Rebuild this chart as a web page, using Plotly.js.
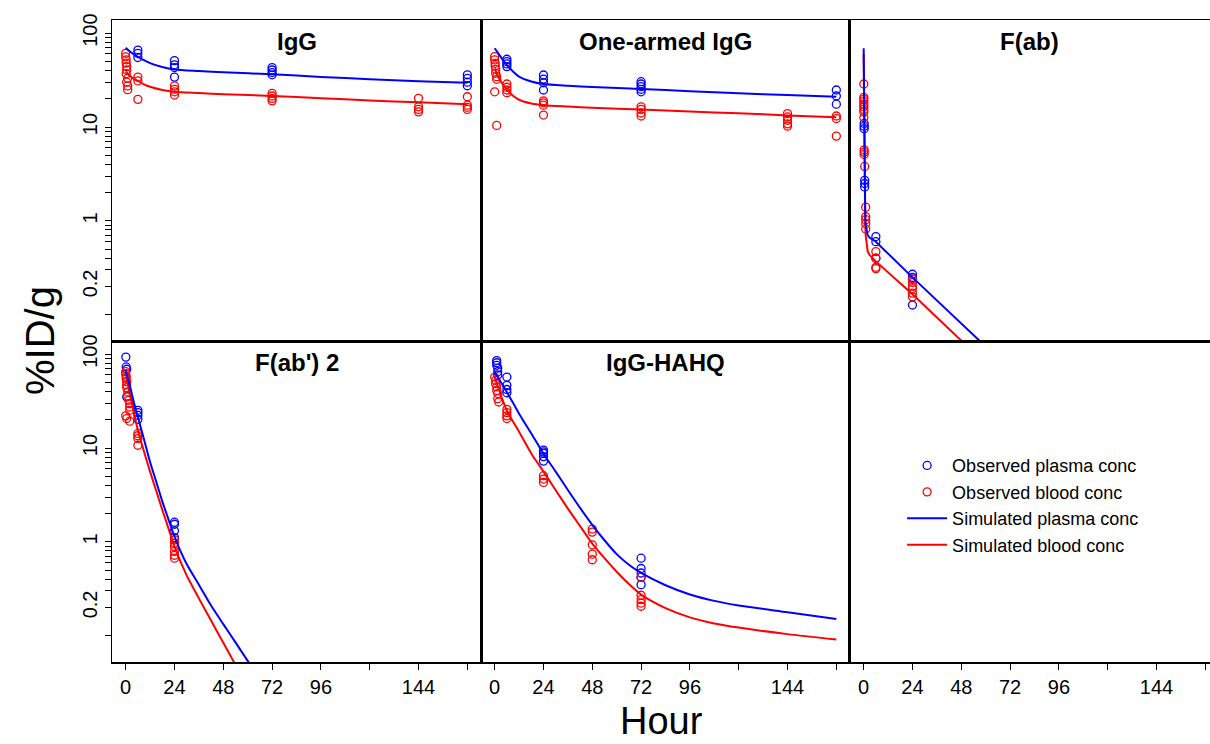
<!DOCTYPE html>
<html>
<head>
<meta charset="utf-8">
<script src="https://cdn.plot.ly/plotly-3.0.1.min.js"></script>
<style>html,body{margin:0;padding:0;background:#fff;}#chart{width:1210px;height:744px;}</style>
</head>
<body>
<div id="chart"></div>
<script>
// ---------------- DATA ----------------
const panelTitles = ["IgG", "One-armed IgG", "F(ab)", "F(ab') 2", "IgG-HAHQ"];
const legendNames = ["Observed plasma conc", "Observed blood conc", "Simulated plasma conc", "Simulated blood conc"];
const xTickVals = [0, 24, 48, 72, 96, 120, 144, 168];
const xTickText = ["0", "24", "48", "72", "96", "", "144", ""];
const yTickLabels = {"100": "100", "10": "10", "1": "1", "0.2": "0.2"};

// IgG
const igg_obsPlasma_t = [6, 6, 6, 24, 24, 24, 24, 72, 72, 72, 72, 168, 168, 168, 168];
const igg_obsPlasma_c = [66, 61, 55, 51, 46, 43, 34, 43, 40.5, 38, 36, 36, 33, 30, 27.5];
const igg_obsBlood_t = [0, 0, 0.25, 0.25, 0.5, 0.5, 0.25, 1, 0.5, 1, 1, 6, 6, 6, 24, 24, 24, 24, 72, 72, 72, 72, 144, 144, 144, 144, 168, 168, 168, 168];
const igg_obsBlood_c = [61, 56, 52, 48, 44, 40.5, 37, 33, 30, 27.4, 25, 34, 31, 19.7, 27.4, 25.2, 23.7, 21.9, 22.8, 21.4, 20.2, 19, 20.2, 16.4, 15.4, 14.5, 21, 17.1, 16.2, 15.4];
const igg_sim_t = [0, 2, 4, 6, 9, 12, 18, 24, 36, 48, 72, 96, 120, 144, 168];
const igg_simPlasma = [70, 64, 59.5, 56, 51.5, 48, 43.5, 41, 39.5, 38.3, 36.4, 34.2, 32.3, 30.8, 29.6];
const igg_simBlood = [39, 35, 32.7, 31, 28.5, 26.8, 24.8, 23.7, 23, 22.4, 21.4, 20.3, 19.2, 18.3, 17.5];

// One-armed IgG
const oa_obsPlasma_t = [6, 6, 6, 6, 24, 24, 24, 24, 72, 72, 72, 72, 72, 168, 168, 168];
const oa_obsPlasma_c = [52.7, 49.7, 47, 44, 35.8, 32.4, 29.6, 24.8, 30.4, 28.7, 26.9, 25.2, 23.7, 24.8, 21.4, 17.5];
const oa_obsBlood_t = [0, 0, 0.25, 0.25, 0.5, 0.5, 1, 1, 0, 1, 6, 6, 6, 6, 24, 24, 24, 24, 72, 72, 72, 72, 144, 144, 144, 144, 144, 168, 168, 168];
const oa_obsBlood_c = [56.2, 51.8, 47.7, 44.7, 41.2, 37.4, 34.4, 32.2, 23.7, 10.4, 28.7, 26.5, 24.8, 23.2, 19, 18.1, 17.1, 13.4, 16.4, 15.4, 14.1, 13.1, 13.9, 12.8, 11.8, 10.8, 10.2, 13.1, 12.3, 8.0];
const oa_sim_t = [0, 2, 4, 6, 9, 12, 18, 24, 36, 48, 72, 96, 120, 144, 168];
const oa_simPlasma = [69, 60, 52, 46, 39, 34.4, 30.5, 28.7, 27.5, 26.6, 25.4, 24.1, 22.9, 21.9, 21];
const oa_simBlood = [42, 33.5, 28.5, 25, 21.5, 19.5, 17.8, 17.1, 16.5, 16, 15.4, 14.6, 14, 13.3, 12.7];

// F(ab)
const fab_obsPlasma_t = [0.25, 0.25, 0.25, 0.5, 0.5, 0.5, 6, 6, 6, 24, 24, 24, 24];
const fab_obsPlasma_c = [10.9, 10.2, 9.6, 2.7, 2.5, 2.3, 0.68, 0.60, 0.40, 0.27, 0.25, 0.24, 0.127];
const fab_obsBlood_t = [0.08, 0.08, 0.08, 0.08, 0.08, 0.08, 0.08, 0.08, 0.08, 0.25, 0.25, 0.25, 0.5, 1, 1, 1, 1, 1, 6, 6, 6, 6, 24, 24, 24, 24, 24, 24];
const fab_obsBlood_c = [28.7, 20.7, 19.7, 18.6, 17.4, 16.4, 15.4, 14.5, 12.6, 5.7, 5.4, 5.1, 3.8, 1.4, 1.11, 1.03, 0.93, 0.82, 0.47, 0.40, 0.32, 0.31, 0.24, 0.22, 0.20, 0.19, 0.17, 0.155];
const fab_sim_t = [0, 0.1, 0.25, 0.5, 0.75, 1, 1.5, 2, 3, 6, 24, 48, 72];
const fab_simPlasma = [69, 30, 10, 3, 1.3, 0.9, 0.75, 0.7, 0.66, 0.6, 0.25, 0.081, 0.026];
const fab_simBlood = [60, 24, 7, 2, 1.0, 0.7, 0.52, 0.47, 0.43, 0.37, 0.165, 0.053, 0.017];

// F(ab')2
const f2_obsPlasma_t = [0.08, 0.25, 0.5, 0.5, 6, 6, 6, 6, 24, 24, 24, 24];
const f2_obsPlasma_c = [93, 73, 69, 35, 25.2, 23.8, 22.3, 20.2, 1.62, 1.54, 1.31, 1.11];
const f2_obsBlood_t = [0, 0, 0.25, 0.25, 0.5, 0.5, 0.5, 1, 1, 1.5, 2, 2, 2, 0, 0.5, 2, 6, 6, 6, 6, 24, 24, 24, 24, 24, 24];
const f2_obsBlood_c = [65, 62, 58, 55, 51, 47, 44, 39.5, 35.8, 32.2, 29.6, 27.4, 25.2, 22, 20.6, 19.3, 14.3, 13.5, 12.6, 10.7, 1.05, 0.97, 0.89, 0.79, 0.72, 0.67];
const f2_sim_t = [0, 2, 4, 6, 9, 12, 15, 18, 21, 24, 30, 36, 42, 48, 54, 60, 66];
const f2_simPlasma = [67, 46, 31, 21.4, 12.4, 7.1, 4.4, 2.7, 1.75, 1.14, 0.58, 0.35, 0.21, 0.133, 0.085, 0.054, 0.035];
const f2_simBlood = [64, 38, 24, 15.5, 9.2, 5.6, 3.5, 2.2, 1.4, 0.89, 0.44, 0.25, 0.145, 0.084, 0.049, 0.029, 0.018];

// IgG-HAHQ
const hq_obsPlasma_t = [1, 1, 1, 1.5, 1.5, 1.5, 6, 6, 6, 6, 24, 24, 24, 24, 24, 72, 72, 72, 72, 72];
const hq_obsPlasma_c = [85.5, 81, 76, 71, 65, 60, 57, 46.5, 42, 38.8, 9.5, 9.1, 8.75, 8.1, 7.25, 0.67, 0.52, 0.466, 0.42, 0.35];
const hq_obsBlood_t = [0, 0.5, 0.5, 1, 1, 1.5, 1.5, 2, 6, 6, 6, 6, 24, 24, 24, 48, 48, 48, 48, 48, 72, 72, 72, 72, 72];
const hq_obsBlood_c = [57, 52.5, 48.4, 44.7, 41, 38, 33.5, 30.9, 25.8, 23.8, 22, 20.6, 5.07, 4.67, 4.3, 1.37, 1.27, 0.93, 0.74, 0.645, 0.42, 0.27, 0.242, 0.223, 0.206];
const hq_sim_t = [0, 6, 12, 18, 24, 30, 36, 42, 48, 54, 60, 66, 72, 84, 96, 108, 120, 144, 168];
const hq_simPlasma = [64, 39.5, 23.2, 14.3, 8.7, 5.6, 3.57, 2.3, 1.52, 1.04, 0.74, 0.57, 0.466, 0.345, 0.275, 0.235, 0.21, 0.178, 0.151];
const hq_simBlood = [57, 25, 14.9, 8.75, 5.6, 3.55, 2.26, 1.47, 0.96, 0.67, 0.48, 0.355, 0.274, 0.197, 0.157, 0.135, 0.122, 0.104, 0.091];

// ---------------- BUILD ----------------
const BLUE = "#0000ff", RED = "#ff0000";
const panels = [
  [igg_obsPlasma_t, igg_obsPlasma_c, igg_obsBlood_t, igg_obsBlood_c, igg_sim_t, igg_simPlasma, igg_simBlood],
  [oa_obsPlasma_t, oa_obsPlasma_c, oa_obsBlood_t, oa_obsBlood_c, oa_sim_t, oa_simPlasma, oa_simBlood],
  [fab_obsPlasma_t, fab_obsPlasma_c, fab_obsBlood_t, fab_obsBlood_c, fab_sim_t, fab_simPlasma, fab_simBlood],
  [f2_obsPlasma_t, f2_obsPlasma_c, f2_obsBlood_t, f2_obsBlood_c, f2_sim_t, f2_simPlasma, f2_simBlood],
  [hq_obsPlasma_t, hq_obsPlasma_c, hq_obsBlood_t, hq_obsBlood_c, hq_sim_t, hq_simPlasma, hq_simBlood]
];
const traces = [];
panels.forEach((p, i) => {
  const ax = i === 0 ? "" : String(i + 1);
  const first = i === 0;
  const shape = i === 2 ? {shape: "linear"} : {shape: "spline", smoothing: 0.7};
  const mk = (c) => ({symbol: "circle-open", size: 8, color: c, line: {width: 1.3, color: c}});
  traces.push({type: "scatter", mode: "markers", x: p[0], y: p[1], xaxis: "x" + ax, yaxis: "y" + ax,
    name: legendNames[0], showlegend: first, legendrank: 1, marker: mk(BLUE)});
  traces.push({type: "scatter", mode: "markers", x: p[2], y: p[3], xaxis: "x" + ax, yaxis: "y" + ax,
    name: legendNames[1], showlegend: first, legendrank: 2, marker: mk(RED)});
  traces.push({type: "scatter", mode: "lines", x: p[4], y: p[6], xaxis: "x" + ax, yaxis: "y" + ax,
    name: legendNames[3], showlegend: first, legendrank: 4, line: Object.assign({color: RED, width: 2}, shape)});
  traces.push({type: "scatter", mode: "lines", x: p[4], y: p[5], xaxis: "x" + ax, yaxis: "y" + ax,
    name: legendNames[2], showlegend: first, legendrank: 3, line: Object.assign({color: BLUE, width: 2}, shape)});
});
traces.push({type: "scatter", mode: "markers", x: [null], y: [null], xaxis: "x6", yaxis: "y6", showlegend: false, hoverinfo: "skip"});

const yTickVals = [];
[0.1, 1, 10].forEach(d => { for (let k = 1; k <= 9; k++) yTickVals.push(+(k * d).toPrecision(3)); });
yTickVals.push(100);
const yTickText = yTickVals.map(v => yTickLabels[String(v)] || "");

const TICKFONT = {family: "Liberation Sans Narrow, Arial Narrow, Liberation Sans, Arial, sans-serif", size: 20, color: "#000"};
const W1 = 0.33607, W2 = 0.67213;
const xDomains = [[0, W1], [W1, W2], [W2, 1]];
const layout = {
  width: 1210, height: 744,
  margin: {l: 112, r: 0, t: 20, b: 82},
  paper_bgcolor: "#fff", plot_bgcolor: "#fff",
  showlegend: true,
  legend: {x: 0.7196, y: 0.3345, xanchor: "left", yanchor: "top", bgcolor: "rgba(0,0,0,0)",
    traceorder: "normal",
    font: {family: "Liberation Sans, Arial, sans-serif", size: 18, color: "#000"}, tracegroupgap: 0, itemwidth: 40},
  annotations: [],
  font: {family: "Liberation Sans, Arial, sans-serif", color: "#000"}
};
for (let i = 0; i < 6; i++) {
  const ax = i === 0 ? "" : String(i + 1);
  const col = i % 3, row = i < 3 ? 0 : 1;
  const bottom = row === 1, left = col === 0;
  layout["xaxis" + ax] = {
    domain: xDomains[col], anchor: "y" + ax,
    range: col === 2 ? [-6.72, 170.3] : [-6.72, 174.72],
    showline: true, mirror: true, linecolor: "#000", linewidth: 1.5,
    showgrid: false, zeroline: false,
    tickmode: "array", tickvals: xTickVals, ticktext: xTickText,
    ticks: bottom ? "outside" : "", ticklen: 6, tickwidth: 1, tickcolor: "#000",
    showticklabels: bottom, tickfont: TICKFONT
  };
  layout["yaxis" + ax] = {
    domain: row === 0 ? [0.5, 1] : [0, 0.5], anchor: "x" + ax,
    type: "log", range: [-1.28, 2.14],
    showline: true, mirror: true, linecolor: "#000", linewidth: 1.5,
    showgrid: false, zeroline: false,
    tickmode: "array", tickvals: yTickVals, ticktext: yTickText,
    ticks: left ? "outside" : "", ticklen: 6, tickwidth: 1, tickcolor: "#000",
    showticklabels: left, tickfont: TICKFONT, tickangle: -90
  };
  if (i < 5) {
    layout.annotations.push({
      text: "<b>" + panelTitles[i] + "</b>", xref: "paper", yref: "paper",
      x: (xDomains[col][0] + xDomains[col][1]) / 2, y: row === 0 ? 1 : 0.5,
      xanchor: "center", yanchor: "top", yshift: -6, showarrow: false,
      font: {family: "Liberation Sans, Arial, sans-serif", size: 24, color: "#000"}
    });
  }
}
layout.annotations.push({text: "Hour", xref: "paper", yref: "paper", x: 0.5, y: -0.0915,
  xanchor: "center", yanchor: "middle", showarrow: false,
  font: {family: "Liberation Sans Narrow, Arial Narrow, Liberation Sans, Arial, sans-serif", size: 38, color: "#000"}});
layout.annotations.push({text: "%ID/g", xref: "paper", yref: "paper", x: -0.0656, y: 0.5016,
  xanchor: "center", yanchor: "middle", showarrow: false, textangle: -90,
  font: {family: "Liberation Sans, Arial, sans-serif", size: 40, color: "#000"}});

Plotly.newPlot("chart", traces, layout, {displayModeBar: false, staticPlot: true});
</script>
</body>
</html>
